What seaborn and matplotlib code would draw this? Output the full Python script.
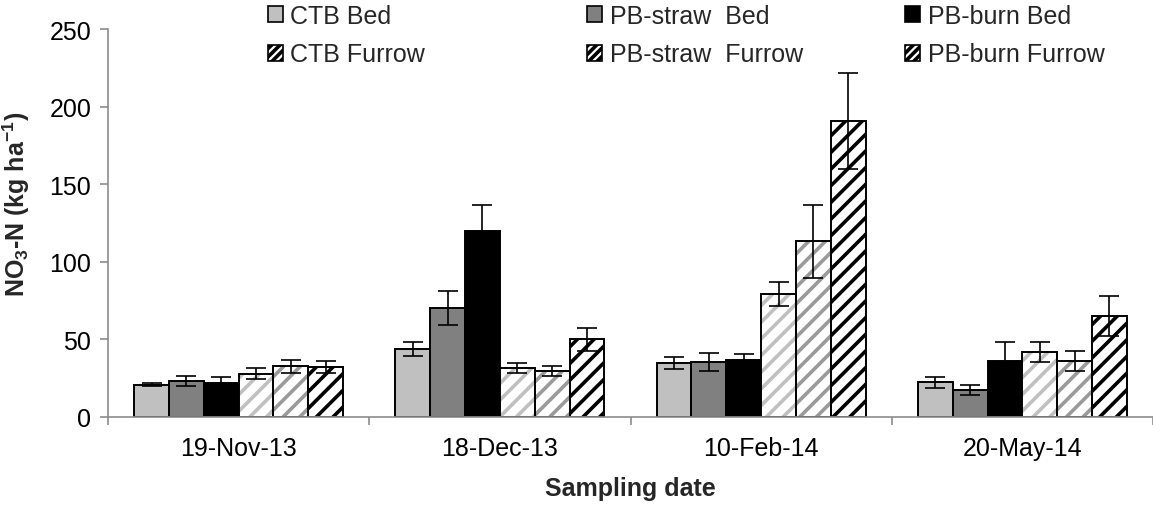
import matplotlib
matplotlib.use("Agg")
import matplotlib.pyplot as plt
import seaborn as sns
import pandas as pd
import numpy as np
from matplotlib.patches import Patch, Rectangle

# ---- data ----
dates = ["19-Nov-13", "18-Dec-13", "10-Feb-14", "20-May-14"]
treatments = ["CTB Bed", "PB-straw  Bed", "PB-burn Bed",
              "CTB Furrow", "PB-straw  Furrow", "PB-burn Furrow"]
ctb_bed = [20.8, 43.8, 34.8, 22.5]
pbstraw_bed = [23.4, 70.0, 35.2, 17.4]
pbburn_bed = [21.9, 119.7, 36.5, 35.9]
ctb_furrow = [27.9, 31.6, 79.3, 42.1]
pbstraw_furrow = [32.6, 29.6, 113.2, 36.1]
pbburn_furrow = [32.2, 50.0, 190.7, 64.9]
ctb_bed_err = [1.0, 4.3, 3.7, 3.5]
pbstraw_bed_err = [3.2, 11.0, 5.8, 3.0]
pbburn_bed_err = [3.6, 17.0, 4.0, 12.4]
ctb_furrow_err = [3.5, 3.4, 7.9, 6.4]
pbstraw_furrow_err = [4.0, 3.3, 23.4, 6.6]
pbburn_furrow_err = [3.7, 7.3, 31.0, 12.9]

values = [ctb_bed, pbstraw_bed, pbburn_bed, ctb_furrow, pbstraw_furrow, pbburn_furrow]
errors = [ctb_bed_err, pbstraw_bed_err, pbburn_bed_err,
          ctb_furrow_err, pbstraw_furrow_err, pbburn_furrow_err]

rows = []
for t, vals, errs in zip(treatments, values, errors):
    for d, v, e in zip(dates, vals, errs):
        rows.append({"date": d, "treatment": t, "value": v, "err": e})
df = pd.DataFrame(rows)

# ---- style ----
sns.set_theme(style="white")
plt.rcParams["font.family"] = ["Liberation Sans", "DejaVu Sans"]
plt.rcParams["mathtext.fontset"] = "custom"
plt.rcParams["mathtext.rm"] = "Liberation Sans"
plt.rcParams["mathtext.bf"] = "Liberation Sans:bold"
plt.rcParams["mathtext.it"] = "Liberation Sans:italic"
plt.rcParams["hatch.linewidth"] = 2.6

face_colors = ["#c0c0c0", "#808080", "#000000", "#ffffff", "#ffffff", "#ffffff"]
hatch_colors = [None, None, None, "#c0c0c0", "#9a9a9a", "#000000"]

fig = plt.figure(figsize=(11.53, 5.06), dpi=100)
ax = fig.add_axes([108 / 1153, 88 / 506, 1 - 108 / 1153, 388 / 506])

sns.barplot(data=df, x="date", y="value", hue="treatment", order=dates,
            hue_order=treatments, palette=face_colors, width=0.8,
            errorbar=None, saturation=1, legend=False, ax=ax,
            edgecolor="black", linewidth=1.4)

containers = list(ax.containers)
for i, cont in enumerate(containers):
    errs = errors[i]
    for bar in cont:
        xc = bar.get_x() + bar.get_width() / 2
        h = bar.get_height()
        ci = int(round(xc))
        if hatch_colors[i] is not None:
            bar.set_facecolor("white")
            bar.set_hatch("//")
            bar.set_edgecolor(hatch_colors[i])
            bar.set_linewidth(0)
            ax.add_patch(Rectangle(bar.get_xy(), bar.get_width(), h, fill=False,
                                   edgecolor="black", linewidth=1.4, zorder=bar.get_zorder() + 0.1))
        ax.errorbar(xc, h, yerr=errs[ci], fmt="none", ecolor="black",
                    elinewidth=1.2, capsize=7, capthick=1.2, zorder=5)

# axes styling
ax.set_ylim(0, 250)
ax.set_xlim(-0.5, 3.5)
ax.set_yticks([0, 50, 100, 150, 200, 250])
for s in ["top", "right"]:
    ax.spines[s].set_visible(False)
for s in ["left", "bottom"]:
    ax.spines[s].set_color("#8c8c8c")
    ax.spines[s].set_linewidth(1.2)
ax.tick_params(axis="y", which="major", left=True, length=6, width=1.2,
               color="#8c8c8c", labelsize=18, pad=6, labelcolor="black")
ax.set_xticks(np.arange(-0.5, 4.0, 1.0), minor=True)
ax.tick_params(axis="x", which="minor", bottom=True, length=6, width=1.2, color="#8c8c8c")
ax.tick_params(axis="x", which="major", bottom=False, labelsize=18, pad=8, labelcolor="black")

ax.set_xlabel("Sampling date", fontsize=18, fontweight="bold", labelpad=11)
ax.set_ylabel(r"NO$_{\mathbf{3}}$-N (kg ha$^{\mathbf{-1}}$)", fontsize=18, fontweight="bold")
ax.yaxis.set_label_coords(-0.073, 0.55)

# legends: three columns
col_x = [268 / 1153, 587 / 1153, 905 / 1153]
pairs = [(0, 3), (1, 4), (2, 5)]
for cx, (a, b) in zip(col_x, pairs):
    handles = [Patch(facecolor=face_colors[a], edgecolor="black", linewidth=1.2),
               Patch(facecolor="white", edgecolor="black", hatch="////", linewidth=1.2)]
    leg = fig.legend(handles, [treatments[a], treatments[b]], loc="upper left",
                     bbox_to_anchor=(cx, 1.0 - 5 / 506), frameon=False, fontsize=18,
                     handlelength=0.6, handleheight=0.6, handletextpad=0.3,
                     labelspacing=0.58, borderaxespad=0, borderpad=0)

fig.savefig("out.png", dpi=100)
